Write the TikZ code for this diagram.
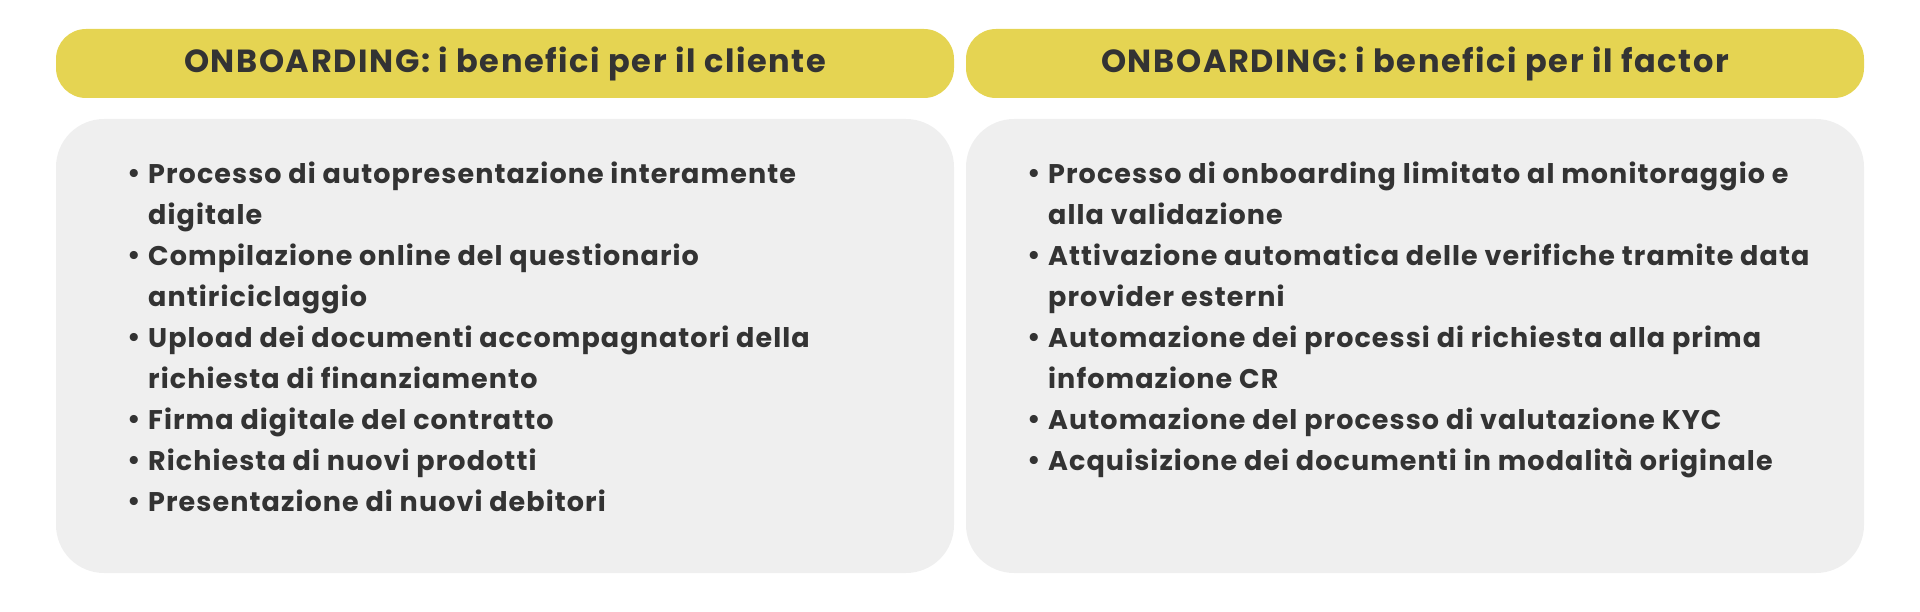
\documentclass[tikz,border=0pt]{standalone}
\usepackage{fontspec}
\setmainfont{Poppins}
\definecolor{yel}{HTML}{E5D452}
\definecolor{gry}{HTML}{EFEFEF}
\definecolor{txt}{HTML}{333333}
\begin{document}
\begin{tikzpicture}[x=1pt,y=-1pt,
  head/.style={fill=yel,rounded corners=30pt,draw=none},
  panel/.style={fill=gry,rounded corners=48pt,draw=none},
  htext/.style={font=\fontsize{32}{36}\selectfont\addfontfeature{LetterSpace=5}\bfseries,text=txt},
  list/.style={anchor=north west,align=left,inner sep=0,font=\fontsize{27}{41}\selectfont\addfontfeature{LetterSpace=4}\bfseries,text=txt}]
\useasboundingbox (0,0) rectangle (1920,612);
\path[head] (56,29) rectangle (954,98);
\path[head] (966,29) rectangle (1864,98);
\path[panel] (56,119) rectangle (954,573);
\path[panel] (966,119) rectangle (1864,573);
\node[htext] (h1) at (505,64) {ONBOARDING: i benefici per il cliente};
\node[htext] (h2) at (1415,64) {ONBOARDING: i benefici per il factor};
\newcommand\bl{\makebox[21pt][l]{\raisebox{1pt}{\textbullet}}}
\newcommand\ind{\hspace*{21pt}}
\node[list] (l1) at (127,162) {\bl Processo di autopresentazione interamente\\ \ind digitale\\ \bl Compilazione online del questionario\\ \ind antiriciclaggio\\ \bl Upload dei documenti accompagnatori della\\ \ind richiesta di finanziamento\\ \bl Firma digitale del contratto\\ \bl Richiesta di nuovi prodotti\\ \bl Presentazione di nuovi debitori};
\node[list] (l2) at (1027,162) {\bl Processo di onboarding limitato al monitoraggio e\\ \ind alla validazione\\ \bl Attivazione automatica delle verifiche tramite data\\ \ind provider esterni\\ \bl Automazione dei processi di richiesta alla prima\\ \ind infomazione CR\\ \bl Automazione del processo di valutazione KYC\\ \bl Acquisizione dei documenti in modalità originale};
\end{tikzpicture}
\end{document}
